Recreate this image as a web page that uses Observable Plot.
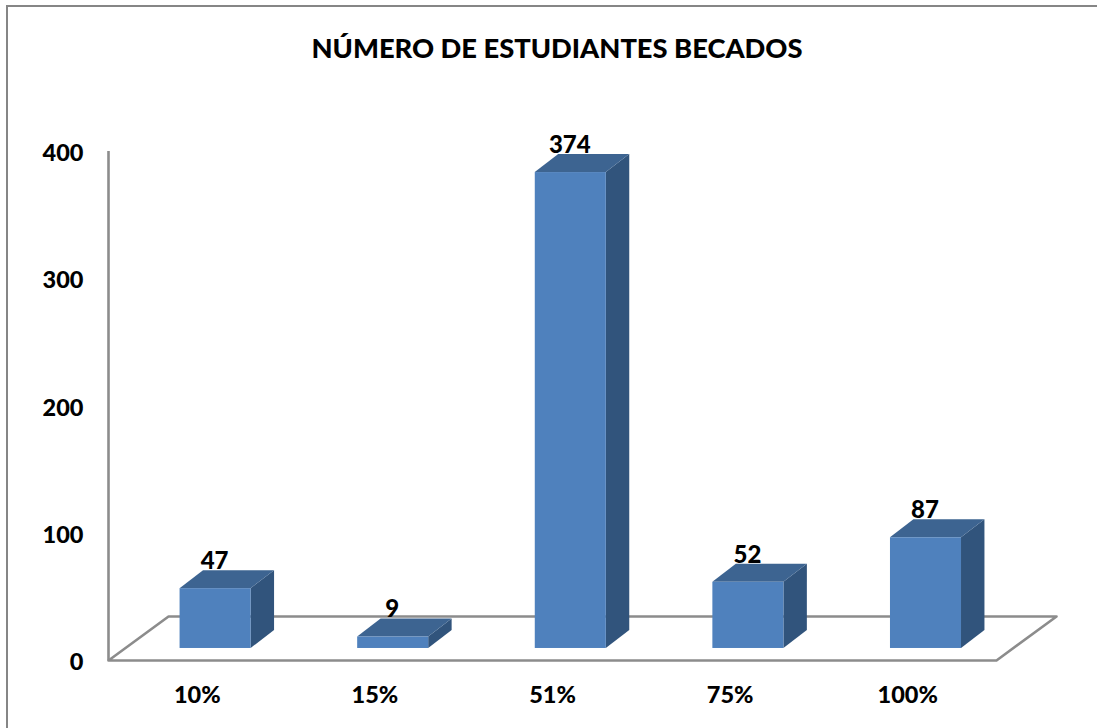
<!DOCTYPE html>
<html>
<head>
<meta charset="utf-8">
<script src="https://cdn.jsdelivr.net/npm/d3@7"></script>
<script src="https://cdn.jsdelivr.net/npm/@observablehq/plot@0.6"></script>
<style>
html,body{margin:0;padding:0;background:#fff;overflow:hidden}
#wrap{position:relative;width:1097px;height:728px;font-family:Lato,"Open Sans",sans-serif}
#frame{position:absolute;left:6px;top:5px;right:-5px;bottom:-5px;border-left:2px solid #868686;border-top:2px solid #868686;pointer-events:none}
#title{height:100px;line-height:96px;text-align:center;padding-left:17px;font-size:27.3px;font-weight:900;color:#000;white-space:nowrap}
svg{display:block}
</style>
</head>
<body>
<div id="wrap">
<div id="frame"></div>
<div id="title">NÚMERO DE ESTUDIANTES BECADOS</div>
<div id="chart"></div>
</div>
<script>
const categories = ["10%", "15%", "51%", "75%", "100%"];
const values = [47, 9, 374, 52, 87];
const yTicks = [0, 100, 200, 300, 400];

// 3D box geometry in scale units
const floorDX = 0.338, floorDY = 34.6;
const baseDX = 0.103, baseDY = 9.45;
const barW = 0.4, boxDX = 0.132, boxDY = 14.1;

const rows = values.map((v, i) => {
  const xl = i + 0.3 + baseDX;
  return {i, v, cat: categories[i], xl, xr: xl + barW, y0: baseDY, y1: baseDY + v};
});
const side = rows.flatMap(r => [0, 1].map(t => ({
  i: r.i, x: r.xr + t * boxDX, lo: r.y0 + t * boxDY, hi: r.y1 + t * boxDY
})));
const top_ = rows.flatMap(r => [0, 1].map(t => ({
  i: r.i, a: r.xl + t * boxDX, b: r.xr + t * boxDX, y: r.y1 + t * boxDY
})));
const n = categories.length;
const floor = [[0, 0], [floorDX, floorDY], [n + floorDX, floorDY], [n, 0], [0, 0]];
const axisGray = "#8c8c8c";

const plot = Plot.plot({
  width: 1097,
  height: 628,
  marginLeft: 108,
  marginRight: 101,
  marginTop: 51,
  marginBottom: 68,
  style: {fontFamily: "Lato, 'Open Sans', sans-serif", background: "transparent", overflow: "visible"},
  x: {domain: [0, n]},
  y: {domain: [0, 400]},
  marks: [
    Plot.line(floor, {x: d => d[0], y: d => d[1], stroke: axisGray, strokeWidth: 2.6, curve: "linear"}),
    Plot.ruleX([0], {y1: 0, y2: 400, stroke: axisGray, strokeWidth: 2.6}),
    Plot.area(side, {x1: "x", y1: "lo", y2: "hi", z: "i", fill: "#31547c", curve: "linear"}),
    Plot.area(top_, {x1: "a", x2: "b", y1: "y", y2: "y", z: "i", fill: "#3d6491", curve: "linear"}),
    Plot.rect(rows, {x1: "xl", x2: "xr", y1: "y0", y2: "y1", fill: "#4f81bd"}),
    Plot.text(rows, {
      x: d => (d.xl + d.xr) / 2, y: d => d.y1 + boxDY, text: d => String(d.v),
      dy: -9.5, dx: -1, fontSize: 24, fontWeight: 900, fill: "#000"
    }),
    Plot.axisY({
      ticks: yTicks, tickSize: 0, tickPadding: 25, dy: 2, label: null,
      fontSize: 23.5, fontWeight: 900, color: "#000", tickFormat: d => String(d)
    }),
    Plot.axisX({
      ticks: categories.map((_, i) => i + 0.5), tickSize: 0, tickPadding: 26, label: null,
      fontSize: 23.5, fontWeight: 900, color: "#000",
      tickFormat: d => categories[d - 0.5]
    })
  ]
});
document.getElementById("chart").appendChild(plot);
</script>
</body>
</html>
